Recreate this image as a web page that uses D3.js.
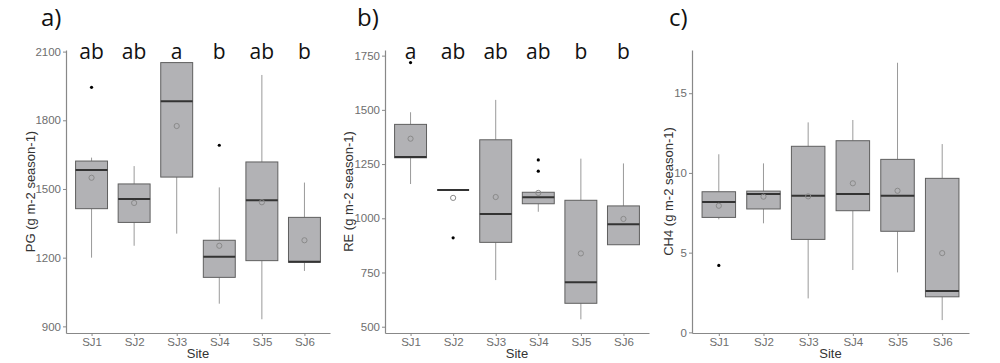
<!DOCTYPE html>
<html>
<head>
<meta charset="utf-8">
<script src="https://cdn.jsdelivr.net/npm/d3@7"></script>
<style>
body { margin:0; background:#fff; }
svg { display:block; }
</style>
</head>
<body>
<svg id="chart" width="1000" height="363"></svg>
<script>
const sites = ["SJ1","SJ2","SJ3","SJ4","SJ5","SJ6"];

// Panel a: PG
const pgQ1   = [1414, 1354, 1552, 1114, 1187, 1180];
const pgMed  = [1583, 1456, 1883, 1204, 1451, 1182];
const pgQ3   = [1622, 1522, 2052, 1276, 1618, 1376];
const pgLo   = [1200, 1252, 1305, 999, 931, 1142];
const pgHi   = [1637, 1600, 2052, 1507, 1998, 1528];
const pgMean = [1549, 1439, 1775, 1252, 1442, 1276];
const pgOut  = [[1944], [], [], [1691], [], []];
const pgLetters = ["ab","ab","a","b","ab","b"];
const pgTicks = [900, 1200, 1500, 1800, 2100];

// Panel b: RE
const reQ1   = [1279, 1130, 889, 1067, 608, 878];
const reMed  = [1283, 1130, 1020, 1097, 705, 972];
const reQ3   = [1433, 1130, 1362, 1120, 1083, 1057];
const reLo   = [1158, 1130, 715, 1030, 534, 878];
const reHi   = [1489, 1130, 1546, 1120, 1275, 1253];
const reMean = [1367, 1094, 1098, 1117, 838, 997];
const reOut  = [[1718], [910], [], [1269, 1217], [], []];
const reLetters = ["a","ab","ab","ab","b","b"];
const reTicks = [500, 750, 1000, 1250, 1500, 1750];

// Panel c: CH4
const chQ1   = [7.21, 7.74, 5.83, 7.63, 6.34, 2.23];
const chMed  = [8.17, 8.68, 8.57, 8.68, 8.57, 2.59];
const chQ3   = [8.82, 8.86, 11.67, 12.02, 10.85, 9.66];
const chLo   = [7.09, 6.84, 2.13, 3.91, 3.76, 0.77];
const chHi   = [11.17, 10.60, 13.17, 13.32, 16.91, 11.81];
const chMean = [7.94, 8.51, 8.53, 9.35, 8.88, 4.97];
const chOut  = [[4.20], [], [], [], [], []];
const chLetters = ["","","","","",""];
const chTicks = [0, 5, 10, 15];

const svg = d3.select("#chart");

function panel(cfg) {
  const xp = d3.scalePoint().domain(sites).range([cfg.x0, cfg.x1]).padding(0.6);
  const step = xp.step();
  const bw = step * 0.75;
  const y = d3.scaleLinear().domain(cfg.domain).range([333, 50]);
  const g = svg.append("g");

  // whiskers
  sites.forEach((s, i) => {
    const cx = xp(s);
    if (cfg.hi[i] > cfg.q3[i])
      g.append("line").attr("x1", cx).attr("x2", cx).attr("y1", y(cfg.q3[i])).attr("y2", y(cfg.hi[i]))
        .attr("stroke", "#9a9a9a").attr("stroke-width", 1);
    if (cfg.lo[i] < cfg.q1[i])
      g.append("line").attr("x1", cx).attr("x2", cx).attr("y1", y(cfg.q1[i])).attr("y2", y(cfg.lo[i]))
        .attr("stroke", "#9a9a9a").attr("stroke-width", 1);
  });
  // boxes
  sites.forEach((s, i) => {
    const cx = xp(s);
    g.append("rect").attr("x", cx - bw/2).attr("width", bw)
      .attr("y", y(cfg.q3[i])).attr("height", Math.max(0, y(cfg.q1[i]) - y(cfg.q3[i])))
      .attr("fill", "#b2b2b5").attr("stroke", "#5f5f5f").attr("stroke-width", 1);
    g.append("line").attr("x1", cx - bw/2).attr("x2", cx + bw/2)
      .attr("y1", y(cfg.med[i])).attr("y2", y(cfg.med[i]))
      .attr("stroke", "#333").attr("stroke-width", 2);
  });
  // outliers
  sites.forEach((s, i) => {
    cfg.out[i].forEach(v => {
      g.append("circle").attr("cx", xp(s)).attr("cy", y(v)).attr("r", 1.6).attr("fill", "#000");
    });
  });
  // means
  sites.forEach((s, i) => {
    g.append("circle").attr("cx", xp(s)).attr("cy", y(cfg.mean[i])).attr("r", 2.6)
      .attr("fill", "none").attr("stroke", "#8a8a8a").attr("stroke-width", 1);
  });
  // letters
  sites.forEach((s, i) => {
    g.append("text").attr("x", xp(s)).attr("y", 59).attr("text-anchor", "middle")
      .attr("font-family", "'Open Sans', sans-serif").attr("font-size", 21).attr("fill", "#111")
      .text(cfg.letters[i]);
  });

  // axes
  const ya = d3.axisLeft(y).tickValues(cfg.ticks).tickFormat(d3.format("d")).tickSize(3).tickPadding(2).tickSizeOuter(0);
  const yg = g.append("g").attr("transform", `translate(${cfg.x0},0)`).call(ya);
  const xa = d3.axisBottom(xp).tickSize(3).tickPadding(2).tickSizeOuter(0);
  const xg = g.append("g").attr("transform", `translate(0,333)`).call(xa);
  [yg, xg].forEach(a => {
    a.attr("font-family", "'Liberation Sans', Arial, sans-serif");
    a.select(".domain").attr("stroke", "#888").attr("stroke-width", 1.2);
    a.selectAll(".tick line").attr("stroke", "#888");
    a.selectAll(".tick text").attr("fill", "#6e6e6e").attr("font-size", 11.5);
  });

  g.append("text").attr("x", (cfg.x0 + cfg.x1) / 2).attr("y", 358).attr("text-anchor", "middle")
    .attr("font-family", "'Liberation Sans', Arial, sans-serif").attr("font-size", 13).attr("fill", "#333")
    .text("Site");
  g.append("text").attr("transform", `translate(${cfg.titleX},${(50 + 333) / 2}) rotate(-90)`)
    .attr("text-anchor", "middle").attr("dy", "0.35em")
    .attr("font-family", "'Liberation Sans', Arial, sans-serif").attr("font-size", 13).attr("fill", "#333")
    .text(cfg.title);
  g.append("text").attr("x", cfg.labelX).attr("y", 26)
    .attr("font-family", "'Open Sans', sans-serif").attr("font-size", 24).attr("fill", "#111")
    .text(cfg.label);
}

panel({x0: 66, x1: 330, domain: [871, 2107], q1: pgQ1, med: pgMed, q3: pgQ3, lo: pgLo, hi: pgHi,
  mean: pgMean, out: pgOut, letters: pgLetters, ticks: pgTicks, title: "PG (g m-2 season-1)",
  titleX: 30, label: "a)", labelX: 41});
panel({x0: 385, x1: 649, domain: [471, 1776], q1: reQ1, med: reMed, q3: reQ3, lo: reLo, hi: reHi,
  mean: reMean, out: reOut, letters: reLetters, ticks: reTicks, title: "RE (g m-2 season-1)",
  titleX: 348, label: "b)", labelX: 357});
panel({x0: 692, x1: 969, domain: [-0.04, 17.71], q1: chQ1, med: chMed, q3: chQ3, lo: chLo, hi: chHi,
  mean: chMean, out: chOut, letters: chLetters, ticks: chTicks, title: "CH4 (g m-2 season-1)",
  titleX: 668, label: "c)", labelX: 669});
</script>
</body>
</html>
